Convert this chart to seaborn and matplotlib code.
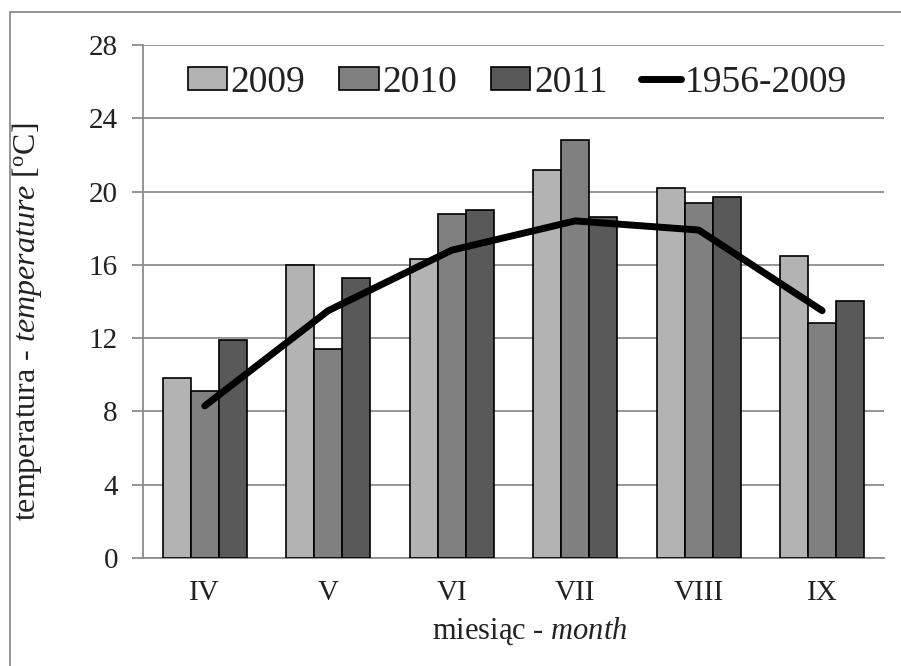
import matplotlib
matplotlib.use("Agg")
import matplotlib.pyplot as plt
import matplotlib.lines as mlines
import seaborn as sns
import pandas as pd

# data
months = ["IV", "V", "VI", "VII", "VIII", "IX"]
t2009 = [9.8, 16.0, 16.3, 21.2, 20.2, 16.5]
t2010 = [9.1, 11.4, 18.8, 22.8, 19.4, 12.8]
t2011 = [11.9, 15.3, 19.0, 18.6, 19.7, 14.0]
t_mean = [8.3, 13.5, 16.8, 18.4, 17.9, 13.5]
years = ["2009", "2010", "2011"]
colors = ["#b3b3b3", "#808080", "#595959"]

df = pd.DataFrame({
    "month": months * 3,
    "year": [y for y in years for _ in months],
    "temp": t2009 + t2010 + t2011,
})

sns.set_style("white")
plt.rcParams["font.family"] = ["Liberation Serif", "DejaVu Serif"]
plt.rcParams["mathtext.fontset"] = "custom"
plt.rcParams["mathtext.rm"] = "Liberation Serif"
plt.rcParams["mathtext.it"] = "Liberation Serif:italic"

fig = plt.figure(figsize=(9.01, 6.66), dpi=100)
ax = fig.add_axes([0.1587, 0.1622, 0.981 - 0.1587, 0.9324 - 0.1622])

sns.barplot(data=df, x="month", y="temp", hue="year", order=months,
            hue_order=years, palette=colors, width=0.68, gap=0,
            edgecolor="black", linewidth=1.2, ax=ax, legend=False, zorder=3)
sns.lineplot(x=months, y=t_mean, color="black", linewidth=5,
             solid_capstyle="round", ax=ax, zorder=4)

ax.set_xlim(-0.5, 5.5)
ax.set_ylim(0, 28)
ax.set_yticks(range(0, 29, 4))
ax.yaxis.grid(True, color="#8c8c8c", linewidth=1.3, zorder=0)
ax.set_axisbelow(True)
for s in ["top", "right"]:
    ax.spines[s].set_visible(False)
for s in ["left", "bottom"]:
    ax.spines[s].set_color("#8c8c8c")
    ax.spines[s].set_linewidth(1.3)

ax.set_xticks(range(6))
ax.set_xticks([i - 0.5 for i in range(7)], minor=True)
ax.tick_params(axis="x", which="major", length=0, labelsize=21, pad=16, colors="#222222")
ax.tick_params(axis="x", which="minor", length=8, width=1.3, color="#8c8c8c", direction="out")
ax.tick_params(axis="y", length=8, width=1.3, color="#8c8c8c", labelsize=21,
               labelcolor="#222222", pad=10, left=True)

ax.set_xlabel(r"miesiąc - $\it{month}$", fontsize=22, color="#222222")
ax.set_ylabel(r"temperatura - $\it{temperature}$ [$^{\rm o}$C]", fontsize=23,
              color="#222222")
ax.xaxis.set_label_coords(0.522, -0.113)
ax.yaxis.set_label_coords(-0.133, 0.46)

handles = [plt.Rectangle((0, 0), 1, 1, facecolor=c, edgecolor="black", linewidth=1.2)
           for c in colors]
handles.append(mlines.Line2D([], [], color="black", linewidth=5, solid_capstyle="round"))
leg = ax.legend(handles, years + ["1956-2009"], loc="center", bbox_to_anchor=(0.505, 0.927),
                ncol=4, frameon=False, fontsize=27, handlelength=1.05, handleheight=0.55,
                handletextpad=0.1, columnspacing=0.9)
for t in leg.get_texts():
    t.set_color("#222222")

# outer chart border (left and top edges visible)
fig.add_artist(mlines.Line2D([10 / 901, 10 / 901], [0, 1 - 12 / 666],
                             transform=fig.transFigure, color="#8c8c8c", linewidth=1.3))
fig.add_artist(mlines.Line2D([10 / 901, 1], [1 - 12 / 666, 1 - 12 / 666],
                             transform=fig.transFigure, color="#8c8c8c", linewidth=1.3))

fig.savefig("out.png", dpi=100)
